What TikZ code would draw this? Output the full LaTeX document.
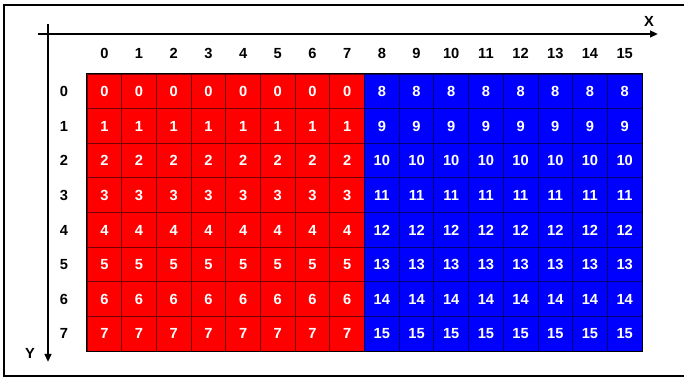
\documentclass[tikz,border=0pt]{standalone}
\usepackage{fontspec}
\setmainfont{Liberation Sans}
\usetikzlibrary{arrows.meta}
\definecolor{redA}{RGB}{255,0,0}
\definecolor{blueA}{RGB}{0,0,255}
\definecolor{ink}{RGB}{0,0,0}
\tikzset{
  cell/.style={
    draw=#1!45!black,
    fill=#1,
    line width=0.6pt,
    minimum width=26.02pt,
    minimum height=25.97pt,
    inner sep=0pt,
    text=white,
    text height=7.9pt,
    text depth=0pt,
    font=\bfseries\fontsize{11}{13}\selectfont
  },
  tick/.style={
    inner sep=0pt,
    text=ink,
    text height=7.9pt,
    text depth=0pt,
    font=\bfseries\fontsize{11}{13}\selectfont
  },
  axis/.style={-{Triangle[length=6pt,width=5pt]}, line width=1.6pt, draw=ink},
  frame/.style={line width=1.5pt, draw=ink},
}

\begin{document}
\begin{tikzpicture}[x=0.75pt,y=0.75pt]

\useasboundingbox (0,0) rectangle (684,377);

\draw[frame] (4,1) rectangle (700,372);

% grid of cells
\foreach \c in {0,...,15}{
  \foreach \r in {0,...,7}{
    \ifnum\c<8
      \def\tone{redA}\pgfmathtruncatemacro\val{\r}
    \else
      \def\tone{blueA}\pgfmathtruncatemacro\val{\r+8}
    \fi
    \node[cell=\tone] (c\c-\r) at ({87+34.6875*(\c+0.5)},{303-34.625*(\r+0.5)}) {\val};
  }
}
\draw[ink, line width=0.8pt] (c0-0.north west) rectangle (c15-7.south east);

% axis labels
\coordinate (colref) at (0,324);
\coordinate (rowref) at (64,0);
\foreach \c in {0,...,15}
  \node[tick] (col\c) at (c\c-0 |- colref) {\c};
\foreach \r in {0,...,7}
  \node[tick] (row\r) at (rowref |- c0-\r) {\r};

% axes
\coordinate (xfrom) at (38,343);
\coordinate (xto) at (658,343);
\coordinate (yfrom) at (48,353);
\coordinate (yto) at (48,15);
\draw[axis] (xfrom) -- (xto);
\draw[axis] (yfrom) -- (yto);
\node[tick] (xname) at (649,356) {X};
\node[tick] (yname) at (30,24) {Y};

\end{tikzpicture}
\end{document}
